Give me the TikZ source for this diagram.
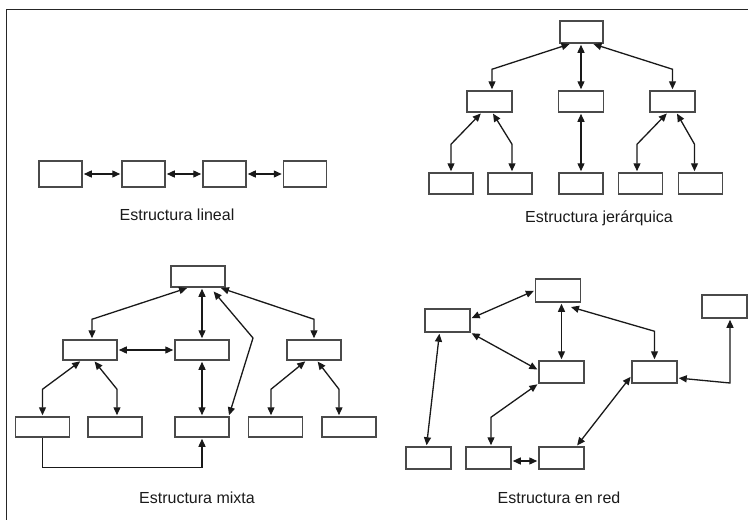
\documentclass[tikz,border=0pt]{standalone}
\usepackage{fontspec}
\setmainfont{Liberation Sans}
\usetikzlibrary{arrows.meta}
\definecolor{boxgray}{HTML}{4A4A4A}
\definecolor{txt}{HTML}{1A1A1A}
\tikzset{
  box/.style={draw=boxgray, line width=1.5pt, fill=white, inner sep=0pt},
  bi/.style={line width=1.3pt, black!90, shorten <=1pt, shorten >=1pt, {Triangle[length=8pt,width=7pt]}-{Triangle[length=8pt,width=7pt]}},
  single/.style={line width=1.3pt, black!90, shorten >=1pt, -{Triangle[length=8pt,width=7pt]}},
  lbl/.style={text=txt, font=\fontsize{16}{19}\selectfont, inner sep=0pt},
  frame/.style={line width=1.6pt, black!85}
}
\begin{document}
\begin{tikzpicture}[x=1pt,y=-1pt]
\useasboundingbox (0,0) rectangle (748,520);
\draw[frame] (6.5,520) -- (6.5,9.5) -- (748,9.5);

% ---- linear
\begin{scope}[every node/.append style={box, minimum width=43pt, minimum height=26pt}]
\node (L1) at (60.5,174) {};
\node (L2) at (143.5,174) {};
\node (L3) at (224.5,174) {};
\node (L4) at (305,174) {};
\end{scope}
\draw[bi] (L1.east) -- (L2.west);
\draw[bi] (L2.east) -- (L3.west);
\draw[bi] (L3.east) -- (L4.west);
\node[lbl] (tl) at (177,215) {Estructura lineal};

% ---- hierarchical
\node[box, minimum width=43pt, minimum height=22pt] (H0) at (581.5,32) {};
\begin{scope}[every node/.append style={box, minimum width=45pt, minimum height=21pt}]
\node (H1) at (489.5,101.5) {};
\node (H2) at (581,101.5) {};
\node (H3) at (672.5,101.5) {};
\end{scope}
\begin{scope}[every node/.append style={box, minimum width=44pt, minimum height=21pt}]
\node (B1) at (451,183.5) {};
\node (B2) at (510,183.5) {};
\node (B3) at (581,183.5) {};
\node (B4) at (640.5,183.5) {};
\node (B5) at (700.5,183.5) {};
\end{scope}
\draw[bi] ([xshift=-11pt]H0.south) -- ([xshift=2.5pt,yshift=21pt]H1.north) -- ([xshift=2.5pt]H1.north);
\draw[bi] (H2.north |- H0.south) -- (H2.north);
\draw[bi] ([xshift=11pt]H0.south) -- ([yshift=21pt]H3.north) -- (H3.north);
\draw[bi] ([xshift=-8pt]H1.south) -- ([yshift=28pt]B1.north) -- (B1.north);
\draw[bi] ([xshift=3pt]H1.south) -- ([xshift=2pt,yshift=28pt]B2.north) -- ([xshift=2pt]B2.north);
\draw[bi] (H2.south) -- (B3.north);
\draw[bi] ([xshift=-5pt]H3.south) -- ([xshift=-3.5pt,yshift=28pt]B4.north) -- ([xshift=-3.5pt]B4.north);
\draw[bi] ([xshift=4pt]H3.south) -- ([xshift=-6pt,yshift=28pt]B5.north) -- ([xshift=-6pt]B5.north);
\node[lbl] (tj) at (599,218) {Estructura jerárquica};

% ---- mixed
\node[box, minimum width=54pt, minimum height=21pt] (M0) at (198,276.5) {};
\begin{scope}[every node/.append style={box, minimum width=54pt, minimum height=20pt}]
\node (M1) at (90,350) {};
\node (M2) at (202,350) {};
\node (M3) at (314,350) {};
\node (N1) at (42.5,427) {};
\node (N2) at (115,427) {};
\node (N3) at (202,427) {};
\node (N4) at (275.5,427) {};
\node (N5) at (349,427) {};
\end{scope}
\coordinate (mk) at (253,338);
\draw[bi] ([xshift=-10pt]M0.south) -- ([xshift=2pt,yshift=20pt]M1.north) -- ([xshift=2pt]M1.north);
\draw[bi] (M2.north |- M0.south) -- (M2.north);
\draw[bi] ([xshift=22pt]M0.south) -- ([yshift=20pt]M3.north) -- (M3.north);
\draw[bi] ([xshift=15pt,yshift=-3pt]M0.south) -- (mk) -- ([xshift=-1pt]N3.north east);
\draw[bi] (M1.east) -- (M2.west);
\draw[bi] (M2.south) -- (N3.north);
\draw[bi] ([xshift=-9pt]M1.south) -- ([yshift=27pt]N1.north) -- (N1.north);
\draw[bi] ([xshift=4pt]M1.south) -- ([xshift=2pt,yshift=27pt]N2.north) -- ([xshift=2pt]N2.north);
\draw[bi] ([xshift=-8pt]M3.south) -- ([xshift=-4.5pt,yshift=27pt]N4.north) -- ([xshift=-4.5pt]N4.north);
\draw[bi] ([xshift=3pt]M3.south) -- ([xshift=-10pt,yshift=27pt]N5.north) -- ([xshift=-10pt]N5.north);
\draw[single] (N1.south) -- ++(0,-30pt) -| (N3.south);
\node[lbl] (tm) at (197,498) {Estructura mixta};

% ---- network
\begin{scope}[every node/.append style={box, minimum width=45pt, minimum height=23pt}]
\node (A) at (558,290.5) {};
\node (B) at (447.5,320.5) {};
\node (E) at (724.5,306.5) {};
\end{scope}
\begin{scope}[every node/.append style={box, minimum width=45pt, minimum height=22pt}]
\node (C) at (561.5,372) {};
\node (D) at (654.5,372) {};
\node (F) at (428.5,458) {};
\node (G) at (488.5,458) {};
\node (H) at (561.5,458) {};
\end{scope}
\coordinate (me) at (730,383);
\draw[bi] (A.west) -- ([yshift=2pt]B.east);
\draw[bi] (C.north |- A.south) -- (C.north);
\draw[bi] ([xshift=12pt,yshift=-4pt]A.south) -- ([yshift=29pt]D.north) -- (D.north);
\draw[bi] (B.south east) -- ([yshift=2pt]C.west);
\draw[bi] ([xshift=-8pt]B.south) -- ([xshift=-2pt]F.north);
\draw[bi] (C.south west) -- ([xshift=2.5pt,yshift=29pt]G.north) -- ([xshift=2.5pt]G.north);
\draw[bi] ([yshift=-3pt]G.east) -- ([yshift=-3pt]H.west);
\draw[bi] ([yshift=-4pt]D.west) -- ([xshift=15pt]H.north);
\draw[bi] ([xshift=5.5pt]E.south) -- (me) -- ([yshift=-6pt]D.east);
\node[lbl] (tn) at (559,498) {Estructura en red};
\end{tikzpicture}
\end{document}
